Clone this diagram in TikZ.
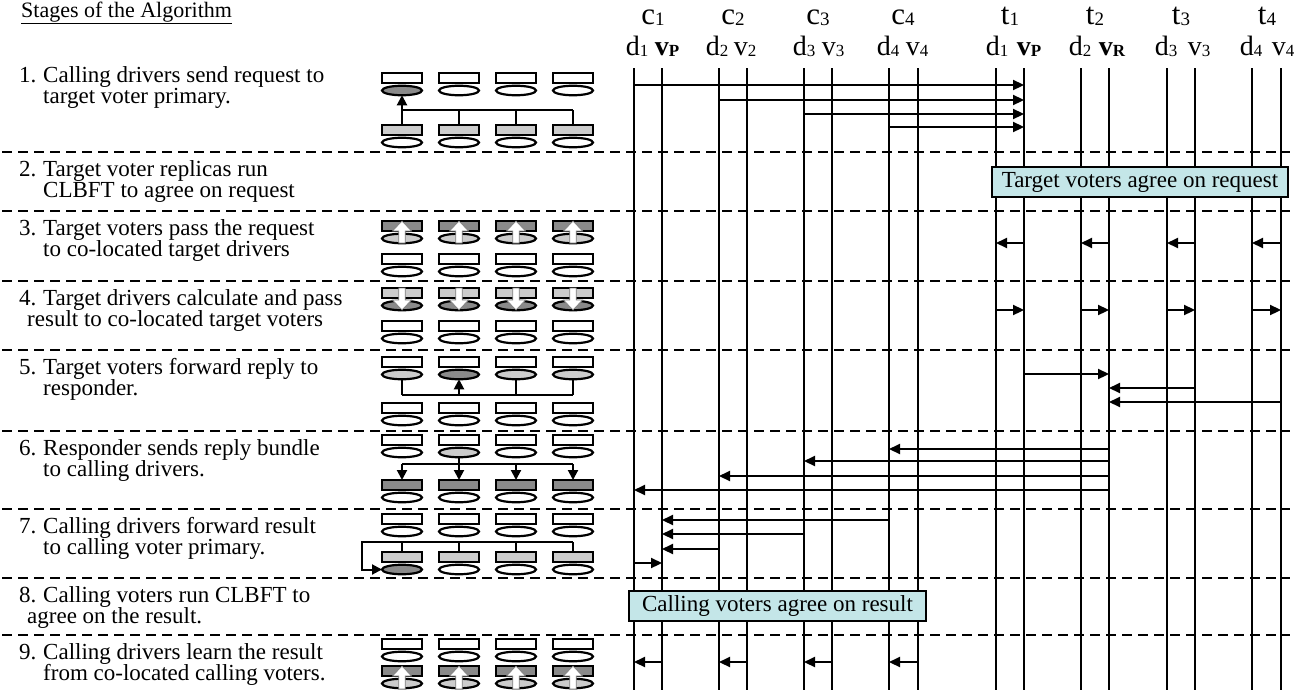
\documentclass[tikz,border=0pt]{standalone}
\usepackage{fontspec}
\setmainfont{Liberation Serif}
\usetikzlibrary{arrows.meta,shapes.geometric}
\definecolor{dkg}{RGB}{138,138,138}
\definecolor{ltg}{RGB}{204,204,204}
\definecolor{boxcyan}{RGB}{196,230,232}
\newcommand\tf{\fontsize{23}{25}\selectfont}
\newcommand\ttlf{\fontsize{22}{24}\selectfont}
\newcommand\cf{\fontsize{31}{33}\selectfont}
\newcommand\df{\fontsize{28}{30}\selectfont}
\newcommand\sbC[1]{{\fontsize{19}{20}\selectfont\raisebox{-1pt}{#1}}}
\newcommand\sbD[1]{{\fontsize{17}{18}\selectfont\raisebox{-1pt}{#1}}}
\newcommand\uparrw[3]{\filldraw[fill=white,draw=gray,line width=0.7pt] (#1-3.2,#2) -- (#1-3.2,#3+10) -- (#1-9.5,#3+10) -- (#1,#3) -- (#1+9.5,#3+10) -- (#1+3.2,#3+10) -- (#1+3.2,#2) -- cycle;}
\newcommand\dnarrw[3]{\filldraw[fill=white,draw=gray,line width=0.7pt] (#1-3.2,#2) -- (#1-3.2,#3-10) -- (#1-9.5,#3-10) -- (#1,#3) -- (#1+9.5,#3-10) -- (#1+3.2,#3-10) -- (#1+3.2,#2) -- cycle;}
\tikzset{
  vl/.style={line width=2.2pt},
  sepline/.style={line width=2.2pt, dash pattern=on 10pt off 6pt},
  arr/.style={line width=2.2pt, -{Triangle[length=11pt,width=10pt]}},
  iln/.style={line width=2pt},
  iarr/.style={line width=2pt, -{Triangle[length=10pt,width=10pt]}},
  drv/.style={draw, line width=2.2pt, minimum width=40pt, minimum height=10pt, inner sep=0pt, outer sep=0pt},
  vot/.style={draw, ellipse, line width=2.2pt, minimum width=40pt, minimum height=9.5pt, inner sep=0pt, outer sep=0pt},
  txt/.style={anchor=base west, font=\tf, inner sep=0pt},
  agree/.style={draw, line width=2pt, fill=boxcyan, font=\tf, inner sep=0pt, minimum height=30pt},
  hc/.style={anchor=base, font=\cf, inner sep=0pt},
  hd/.style={anchor=base, font=\df, inner sep=0pt},
}
\newcommand\icn[5]{%
  \node[drv, fill=#4] (#1r) at (#2,#3) {};
  \node[vot, fill=#5] (#1e) at (#2,#3+12.5) {};}
\begin{document}
\begin{tikzpicture}[x=1pt,y=-1pt]
\useasboundingbox (0,0) rectangle (1314,696);

% ---------- title and stage texts ----------
\node[txt, font=\ttlf] (title) at (21,17) {\underline{Stages of the Algorithm}};
\foreach \k/\yy/\a/\b/\bx in {
  1/82/{Calling drivers send request to}/{target voter primary.}/43,
  2/176/{Target voter replicas run}/{CLBFT to agree on request}/43,
  3/235/{Target voters pass the request}/{to co-located target drivers}/43,
  4/305/{Target drivers calculate and pass}/{result to co-located target voters}/27,
  5/374/{Target voters forward reply to}/{responder.}/43,
  6/455/{Responder sends reply bundle}/{to calling drivers.}/43,
  7/533/{Calling drivers forward result}/{to calling voter primary.}/43,
  8/602/{Calling voters run CLBFT to}/{agree on the result.}/27,
  9/659/{Calling drivers learn the result}/{from co-located calling voters.}/43}{
  \node[txt] (n\k) at (19,\yy) {\k.};
  \node[txt] (a\k) at (43,\yy) {\a};
  \node[txt] (b\k) at (\bx,\yy+21.5) {\b};
}

% ---------- separators ----------
\foreach \yy in {152,211,281,350,431,509,578,635}{
  \draw[sepline] (2,\yy) -- (1290,\yy);
}

% ---------- icons ----------
% stage 1
\foreach \i/\x/\ef in {1/402/dkg,2/459/white,3/516/white,4/573/white}{
  \icn{s1t\i}{\x}{78}{white}{\ef}
  \icn{s1b\i}{\x}{130}{ltg}{white}
}
\coordinate (s1bar) at (0,110);
\foreach \i in {2,3,4}{\draw[iln] (s1b\i r.north) -- (s1b\i r.north |- s1bar);}
\draw[iln] (s1b1r.north |- s1bar) -- (s1b4r.north |- s1bar);
\draw[iarr] (s1b1r.north) -- (s1t1e.south);

% stage 3
\foreach \i/\x in {1/402,2/459,3/516,4/573}{
  \icn{s3t\i}{\x}{226}{dkg}{ltg}
  \uparrw{\x}{243}{221}
  \icn{s3b\i}{\x}{259}{white}{white}
}
% stage 4
\foreach \i/\x in {1/402,2/459,3/516,4/573}{
  \icn{s4t\i}{\x}{293}{ltg}{dkg}
  \dnarrw{\x}{288}{310}
  \icn{s4b\i}{\x}{326}{white}{white}
}
% stage 5
\foreach \i/\x/\ef in {1/402/ltg,2/459/dkg,3/516/ltg,4/573/ltg}{
  \icn{s5t\i}{\x}{362}{white}{\ef}
  \icn{s5b\i}{\x}{408}{white}{white}
}
\coordinate (s5bar) at (0,395);
\foreach \i in {1,3,4}{\draw[iln] (s5t\i e.south) -- (s5t\i e.south |- s5bar);}
\draw[iln] (s5t1e.south |- s5bar) -- (s5t4e.south |- s5bar);
\draw[iarr] (s5t2e.south |- s5bar) -- (s5t2e.south);

% stage 6
\foreach \i/\x/\ef in {1/402/white,2/459/ltg,3/516/white,4/573/white}{
  \icn{s6t\i}{\x}{440}{white}{\ef}
  \icn{s6b\i}{\x}{485}{dkg}{white}
}
\coordinate (s6bar) at (0,464);
\draw[iln] (s6t2e.south) -- (s6t2e.south |- s6bar);
\draw[iln] (s6b1r.north |- s6bar) -- (s6b4r.north |- s6bar);
\foreach \i in {1,2,3,4}{\draw[iarr] (s6b\i r.north |- s6bar) -- (s6b\i r.north);}

% stage 7
\foreach \i/\x/\ef in {1/402/dkg,2/459/white,3/516/white,4/573/white}{
  \icn{s7t\i}{\x}{519}{white}{white}
  \icn{s7b\i}{\x}{557}{ltg}{\ef}
}
\coordinate (s7c) at (362,542);
\foreach \i in {1,2,3,4}{\draw[iln] (s7b\i r.north |- s7c) -- (s7b\i r.north);}
\draw[iarr] (s7b4r.north |- s7c) -- (s7c) |- (s7b1e.west);

% stage 9
\foreach \i/\x in {1/402,2/459,3/516,4/573}{
  \icn{s9t\i}{\x}{644}{white}{white}
  \icn{s9b\i}{\x}{671}{dkg}{ltg}
  \uparrw{\x}{689}{666}
}

% ---------- lifelines ----------
\foreach \n/\x in {cd1/634,cv1/662,cd2/719,cv2/747,cd3/804,cv3/832,cd4/889,cv4/918,
                   td1/996,tv1/1024,td2/1081,tv2/1109,td3/1167,tv3/1195,td4/1252,tv4/1281}{
  \coordinate (\n) at (\x,68);
  \coordinate (\n b) at (\x,690);
  \draw[vl] (\n) -- (\n b);
}

% ---------- headers ----------
\node[hc] (hc1) at (653,24) {c\sbC{1}};
\node[hc] (hc2) at (733,24) {c\sbC{2}};
\node[hc] (hc3) at (818,24) {c\sbC{3}};
\node[hc] (hc4) at (903,24) {c\sbC{4}};
\node[hc] (ht1) at (1010,24) {t\sbC{1}};
\node[hc] (ht2) at (1095,24) {t\sbC{2}};
\node[hc] (ht3) at (1181,24) {t\sbC{3}};
\node[hc] (ht4) at (1267,24) {t\sbC{4}};
\node[hd] (lcd1) at (637,55) {d\sbD{1}};
\node[hd] (lcv1) at (667,55) {\textbf{v\sbD{P}}};
\node[hd] (lcd2) at (717,55) {d\sbD{2}};
\node[hd] (lcv2) at (745,55) {v\sbD{2}};
\node[hd] (lcd3) at (804,55) {d\sbD{3}};
\node[hd] (lcv3) at (833,55) {v\sbD{3}};
\node[hd] (lcd4) at (888,55) {d\sbD{4}};
\node[hd] (lcv4) at (917,55) {v\sbD{4}};
\node[hd] (ltd1) at (997,55) {d\sbD{1}};
\node[hd] (ltv1) at (1029,55) {\textbf{v\sbD{P}}};
\node[hd] (ltd2) at (1080,55) {d\sbD{2}};
\node[hd] (ltv2) at (1112,55) {\textbf{v\sbD{R}}};
\node[hd] (ltd3) at (1166,55) {d\sbD{3}};
\node[hd] (ltv3) at (1199,55) {v\sbD{3}};
\node[hd] (ltd4) at (1251,55) {d\sbD{4}};
\node[hd] (ltv4) at (1283,55) {v\sbD{4}};

% ---------- messages ----------
% stage 1
\draw[arr] (cd1 |- 0,85) -- (tv1 |- 0,85);
\draw[arr] (cd2 |- 0,100) -- (tv1 |- 0,100);
\draw[arr] (cd3 |- 0,114) -- (tv1 |- 0,114);
\draw[arr] (cd4 |- 0,127) -- (tv1 |- 0,127);
% stage 3
\foreach \i in {1,2,3,4}{\draw[arr] (tv\i |- 0,243) -- (td\i |- 0,243);}
% stage 4
\foreach \i in {1,2,3,4}{\draw[arr] (td\i |- 0,310) -- (tv\i |- 0,310);}
% stage 5
\draw[arr] (tv1 |- 0,374) -- (tv2 |- 0,374);
\draw[arr] (tv3 |- 0,388) -- (tv2 |- 0,388);
\draw[arr] (tv4 |- 0,402) -- (tv2 |- 0,402);
% stage 6
\draw[arr] (tv2 |- 0,449) -- (cd4 |- 0,449);
\draw[arr] (tv2 |- 0,461) -- (cd3 |- 0,461);
\draw[arr] (tv2 |- 0,476) -- (cd2 |- 0,476);
\draw[arr] (tv2 |- 0,490) -- (cd1 |- 0,490);
% stage 7
\draw[arr] (cd4 |- 0,520) -- (cv1 |- 0,520);
\draw[arr] (cd3 |- 0,534) -- (cv1 |- 0,534);
\draw[arr] (cd2 |- 0,549) -- (cv1 |- 0,549);
\draw[arr] (cd1 |- 0,563) -- (cv1 |- 0,563);
% stage 9
\foreach \i in {1,2,3,4}{\draw[arr] (cv\i |- 0,662) -- (cd\i |- 0,662);}

% ---------- agreement boxes ----------
\node[agree, minimum width=296pt] (tagree) at (1140,182) {Target voters agree on request};
\node[agree, minimum width=297pt] (cagree) at (777.5,605.5) {Calling voters agree on result};
\end{tikzpicture}
\end{document}
